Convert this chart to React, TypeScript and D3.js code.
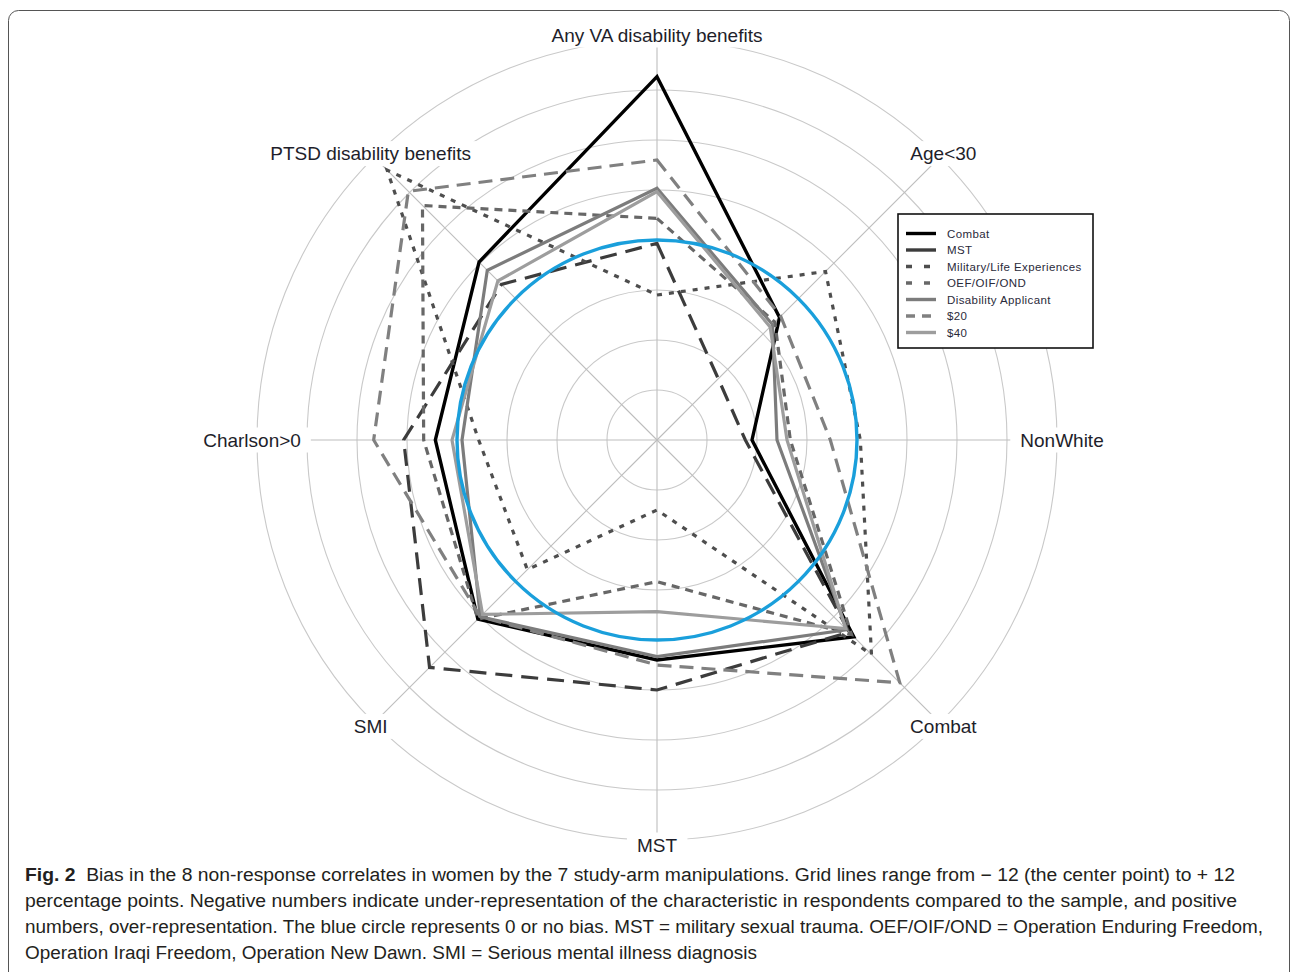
import React, { useEffect, useRef } from "react";
import * as d3 from "d3";

// ---------- data ----------
const axisLabels = [
  "Any VA disability benefits",
  "Age<30",
  "NonWhite",
  "Combat",
  "MST",
  "SMI",
  "Charlson>0",
  "PTSD disability benefits",
];

const seriesNames = [
  "Combat",
  "MST",
  "Military/Life Experiences",
  "OEF/OIF/OND",
  "Disability Applicant",
  "$20",
  "$40",
];

// bias in percentage points, order of axisLabels
const combatArm = [9.8, -1.6, -6.3, 4.7, 1.2, 3.2, 1.3, 3.1];
const mstArm = [-0.2, -6.8, -6.7, 4.3, 3.0, 7.3, 3.2, 1.2];
const militaryArm = [-3.3, 2.3, 0.2, 6.2, -7.8, -1.0, -1.3, 10.9];
const oefArm = [1.3, -2.0, -4.0, 4.5, -3.5, 3.2, 2.0, 7.9];
const disabilityArm = [3.1, -2.2, -4.8, 4.1, 1.0, 3.0, -0.3, 2.4];
const dollar20Arm = [4.8, -1.5, -1.6, 8.6, 1.5, 3.0, 5.0, 9.1];
const dollar40Arm = [2.9, -2.4, -4.2, 4.0, -1.7, 2.8, 0.3, 1.5];

const seriesValues = [
  combatArm,
  mstArm,
  militaryArm,
  oefArm,
  disabilityArm,
  dollar20Arm,
  dollar40Arm,
];

const gridTicks = [-9, -6, -3, 0, 3, 6, 9, 12];
const valueDomain = [-12, 12];

const captionLines = [
  { bold: "Fig. 2", rest: "  Bias in the 8 non-response correlates in women by the 7 study-arm manipulations. Grid lines range from \u2212 12 (the center point) to + 12" },
  { bold: "", rest: "percentage points. Negative numbers indicate under-representation of the characteristic in respondents compared to the sample, and positive" },
  { bold: "", rest: "numbers, over-representation. The blue circle represents 0 or no bias. MST = military sexual trauma. OEF/OIF/OND = Operation Enduring Freedom," },
  { bold: "", rest: "Operation Iraqi Freedom, Operation New Dawn. SMI = Serious mental illness diagnosis" },
];

// ---------- styles ----------
const seriesColors = ["#000000", "#3c3c3c", "#4e4e4e", "#676767", "#7c7c7c", "#808080", "#9d9d9d"];
const seriesDash = ["none", "17,9", "5,7", "8,6", "none", "14,8", "none"];
const seriesWidth = [3.4, 3.2, 3.2, 3.2, 3.2, 3.2, 3.2];
const captionWidths = [1210, 1212, 1238, 732];

export default function App() {
  const ref = useRef<SVGSVGElement | null>(null);

  useEffect(() => {
    const svg = d3.select(ref.current);
    svg.selectAll("*").remove();
    const W = 1292, H = 972, cx = 657, cy = 440, R = 400;

    svg.append("rect").attr("width", W).attr("height", H).attr("fill", "#fff");
    svg.append("rect")
      .attr("x", 8.5).attr("y", 10.5).attr("width", 1281).attr("height", 1000)
      .attr("rx", 10).attr("fill", "none").attr("stroke", "#555").attr("stroke-width", 1);

    const g = svg.append("g").attr("transform", `translate(${cx},${cy})`);
    const r = d3.scaleLinear().domain(valueDomain).range([0, R]);
    const n = axisLabels.length;
    const ang = (i: number) => (i * 2 * Math.PI) / n;

    // grid circles
    g.selectAll("circle.grid").data(gridTicks).join("circle")
      .attr("class", "grid").attr("r", (d) => r(d))
      .attr("fill", "none").attr("stroke", "#c9c9c9").attr("stroke-width", 1.1);

    // axis lines
    g.selectAll("line.axis").data(axisLabels).join("line")
      .attr("class", "axis")
      .attr("x1", 0).attr("y1", 0)
      .attr("x2", (_d, i) => Math.sin(ang(i)) * r(12))
      .attr("y2", (_d, i) => -Math.cos(ang(i)) * r(12))
      .attr("stroke", "#bdbdbd").attr("stroke-width", 1.1);

    // series polygons
    const line = d3.lineRadial<number>()
      .angle((_d, i) => ang(i))
      .radius((d) => r(d))
      .curve(d3.curveLinearClosed);

    seriesValues.forEach((vals, k) => {
      g.append("path")
        .attr("d", line(vals) as string)
        .attr("fill", "none")
        .attr("stroke", seriesColors[k])
        .attr("stroke-width", seriesWidth[k])
        .attr("stroke-dasharray", seriesDash[k])
        .attr("stroke-linejoin", "miter");
    });

    // zero (no bias) circle
    g.append("circle").attr("r", r(0)).attr("fill", "none")
      .attr("stroke", "#1a9fdb").attr("stroke-width", 3.4);

    // axis labels
    axisLabels.forEach((lab, i) => {
      const lr = 405;
      const x = Math.sin(ang(i)) * lr;
      const y = -Math.cos(ang(i)) * lr;
      const lg = g.append("g");
      const t = lg.append("text")
        .attr("x", x).attr("y", y)
        .attr("text-anchor", "middle").attr("dominant-baseline", "central")
        .attr("font-family", "'Liberation Sans', Arial, sans-serif")
        .attr("font-size", 19).attr("fill", "#1e1e2a").text(lab);
      const bb = (t.node() as SVGTextElement).getBBox();
      lg.insert("rect", "text")
        .attr("x", bb.x - 10).attr("y", bb.y - 2)
        .attr("width", bb.width + 20).attr("height", bb.height + 4)
        .attr("fill", "#fff");
    });

    // legend
    const lgX = 898, lgY = 214, lgW = 195, lgH = 134;
    const leg = svg.append("g");
    leg.append("rect").attr("x", lgX).attr("y", lgY).attr("width", lgW).attr("height", lgH)
      .attr("fill", "#fff").attr("stroke", "#111").attr("stroke-width", 1.6);
    seriesNames.forEach((name, k) => {
      const yy = lgY + 19.5 + k * 16.5;
      leg.append("line").attr("x1", 906).attr("x2", 936).attr("y1", yy).attr("y2", yy)
        .attr("stroke", seriesColors[k]).attr("stroke-width", 3.4)
        .attr("stroke-dasharray", k === 2 || k === 3 ? "6,12" : k === 5 ? "9,7" : "none");
      leg.append("text").attr("x", 947).attr("y", yy).attr("dominant-baseline", "central")
        .attr("font-family", "'Liberation Sans', Arial, sans-serif")
        .attr("font-size", 11.5).attr("letter-spacing", 0.4)
        .attr("fill", "#2a2a3a").text(name);
    });

    // caption
    captionLines.forEach((ln, i) => {
      const t = svg.append("text")
        .attr("x", 25).attr("y", 881 + i * 26)
        .attr("font-family", "'Liberation Sans Narrow', 'Liberation Sans', Arial, sans-serif")
        .attr("font-size", 18).attr("fill", "#231f20")
        .attr("textLength", captionWidths[i]).attr("lengthAdjust", "spacingAndGlyphs");
      if (ln.bold) t.append("tspan").attr("font-weight", "bold").text(ln.bold);
      t.append("tspan").attr("xml:space", "preserve").text(ln.rest);
    });
  }, []);

  return (
    <svg
      ref={ref}
      width={1292}
      height={972}
      style={{ position: "absolute", left: 0, top: 0, display: "block" }}
    />
  );
}
